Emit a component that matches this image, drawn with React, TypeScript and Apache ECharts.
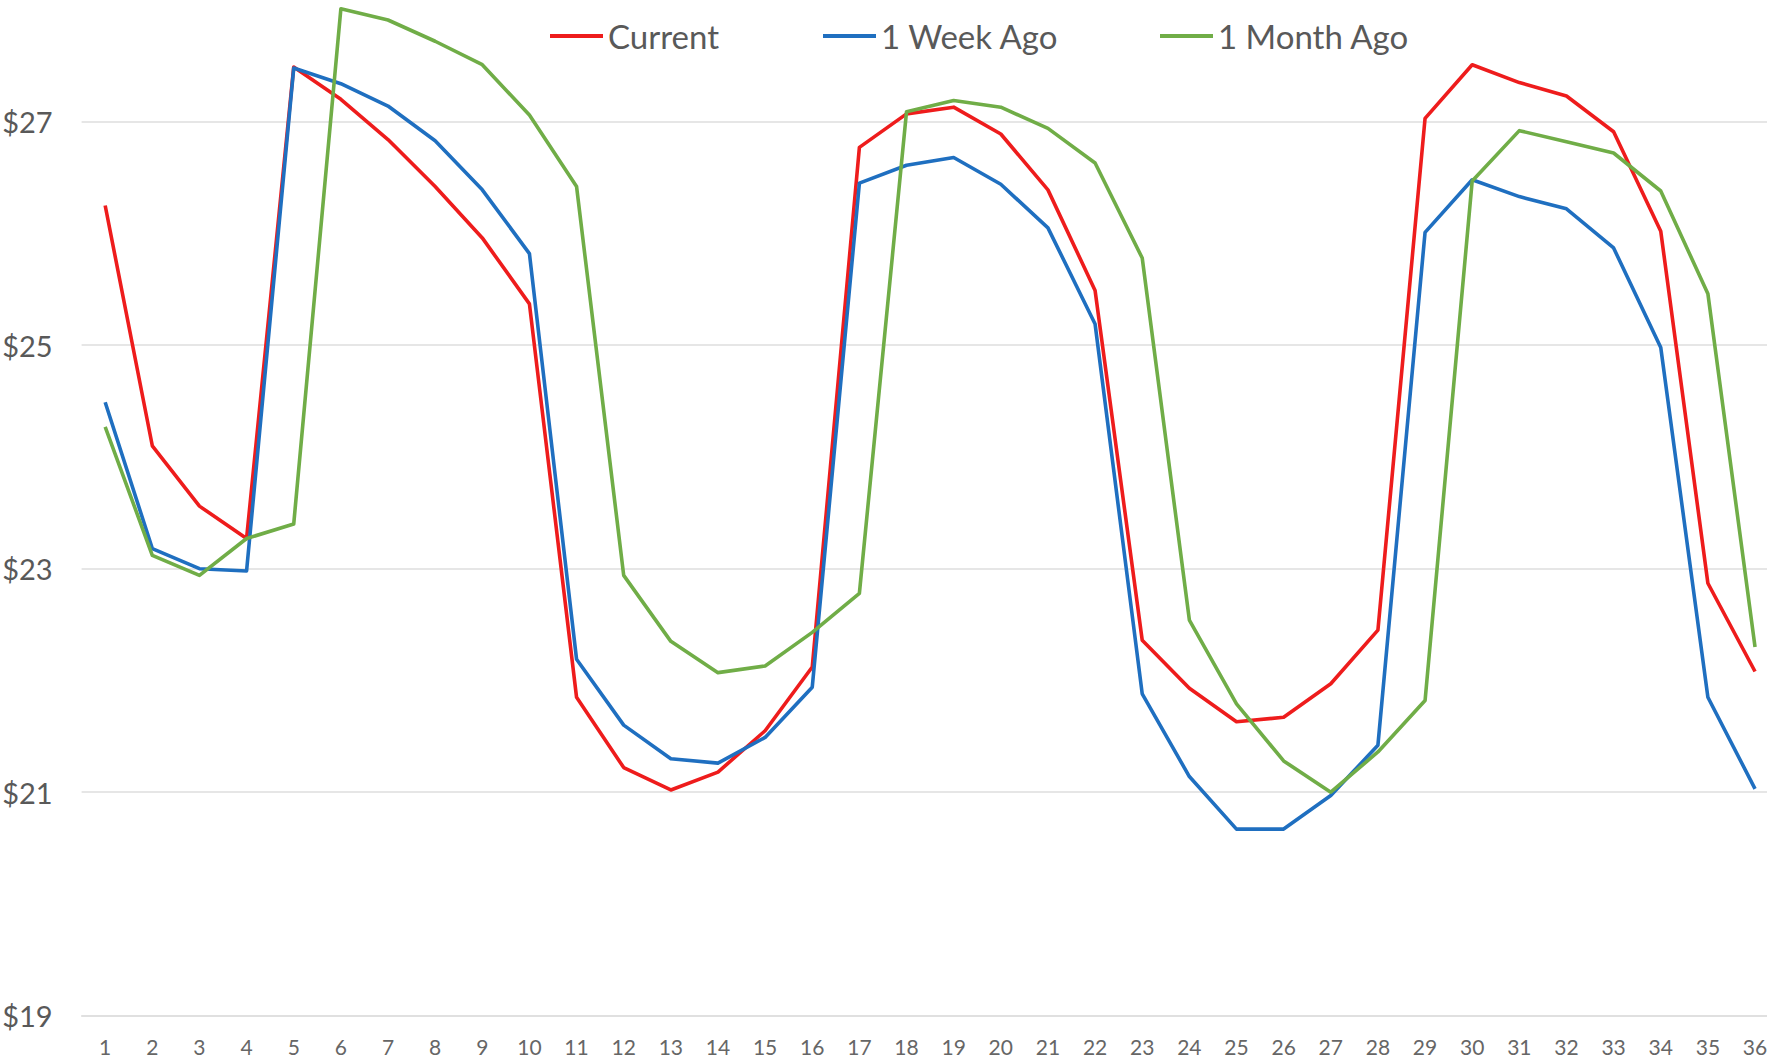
import React, { useEffect, useRef } from "react";
import * as echarts from "echarts";

const categories = [
  "1","2","3","4","5","6","7","8","9","10","11","12","13","14","15","16","17","18",
  "19","20","21","22","23","24","25","26","27","28","29","30","31","32","33","34","35","36",
];

const current = [
  26.25, 24.1, 23.56, 23.27, 27.49, 27.2, 26.84, 26.42, 25.96, 25.37, 21.85, 21.22,
  21.02, 21.18, 21.55, 22.12, 26.77, 27.07, 27.13, 26.89, 26.39, 25.49, 22.36, 21.93,
  21.63, 21.67, 21.97, 22.45, 27.03, 27.51, 27.35, 27.23, 26.91, 26.02, 22.87, 22.08,
];

const weekAgo = [
  24.49, 23.18, 23.0, 22.98, 27.48, 27.34, 27.14, 26.83, 26.39, 25.82, 22.19, 21.6,
  21.3, 21.26, 21.49, 21.94, 26.45, 26.61, 26.68, 26.44, 26.05, 25.19, 21.88, 21.14,
  20.67, 20.67, 20.97, 21.42, 26.01, 26.48, 26.33, 26.22, 25.87, 24.98, 21.85, 21.03,
];

const monthAgo = [
  24.27, 23.12, 22.94, 23.27, 23.4, 28.01, 27.91, 27.72, 27.51, 27.06, 26.42, 22.94,
  22.35, 22.07, 22.13, 22.43, 22.78, 27.09, 27.19, 27.13, 26.94, 26.63, 25.78, 22.54,
  21.79, 21.28, 21.0, 21.36, 21.82, 26.47, 26.92, 26.82, 26.72, 26.38, 25.46, 22.3,
];

const seriesNames = ["Current", "1 Week Ago", "1 Month Ago"];
const seriesColors = ["#ee1c1c", "#1f6fc0", "#70ad47"];
const legendLefts = [550, 823, 1160];

const FONT = "Lato, 'Noto Sans', sans-serif";
const TEXT_COLOR = "#595959";
const GRID_COLOR = "#dedede";

export default function App() {
  const ref = useRef<HTMLDivElement>(null);

  useEffect(() => {
    if (!ref.current) return;
    const chart = echarts.init(ref.current, undefined, { renderer: "svg" });
    const dataSets = [current, weekAgo, monthAgo];
    chart.setOption({
      animation: false,
      backgroundColor: "#ffffff",
      textStyle: { fontFamily: FONT },
      legend: seriesNames.map((name, i) => ({
        data: [name],
        left: legendLefts[i],
        top: 17,
        padding: 0,
        icon: "rect",
        itemWidth: 53,
        itemHeight: 4,
        itemStyle: { color: seriesColors[i] },
        textStyle: {
          color: TEXT_COLOR,
          fontSize: 33,
          fontFamily: FONT,
          lineHeight: 38,
          padding: [0, 0, 0, 0],
        },
        selectedMode: false,
      })),
      grid: {
        left: 81.6,
        right: -11.6,
        top: -101.8,
        bottom: 42.3,
        containLabel: false,
        outerBoundsMode: "none",
      },
      xAxis: {
        type: "category",
        data: categories,
        boundaryGap: true,
        axisLine: { show: true, lineStyle: { color: GRID_COLOR, width: 1.5 } },
        axisTick: { show: false },
        axisLabel: {
          color: "#666666",
          fontSize: 21,
          fontFamily: FONT,
          margin: 21,
          interval: 0,
          lineHeight: 20,
        },
        splitLine: { show: false },
      },
      yAxis: {
        type: "value",
        min: 19,
        max: 29,
        interval: 2,
        axisLine: { show: false },
        axisTick: { show: false },
        axisLabel: {
          color: TEXT_COLOR,
          fontSize: 29,
          fontFamily: FONT,
          margin: 29,
          showMaxLabel: false,
          formatter: (v: number) => "$" + v,
        },
        splitLine: { show: true, lineStyle: { color: GRID_COLOR, width: 1.5 } },
      },
      series: seriesNames.map((name, i) => ({
        name,
        type: "line",
        data: dataSets[i],
        symbol: "none",
        smooth: false,
        lineStyle: { color: seriesColors[i], width: 3.6, join: "round" },
        itemStyle: { color: seriesColors[i] },
        emphasis: { disabled: true },
      })),
    });
    return () => chart.dispose();
  }, []);

  return (
    <div
      ref={ref}
      style={{ position: "fixed", left: 0, top: 0, width: 1767, height: 1058, background: "#fff" }}
    />
  );
}
